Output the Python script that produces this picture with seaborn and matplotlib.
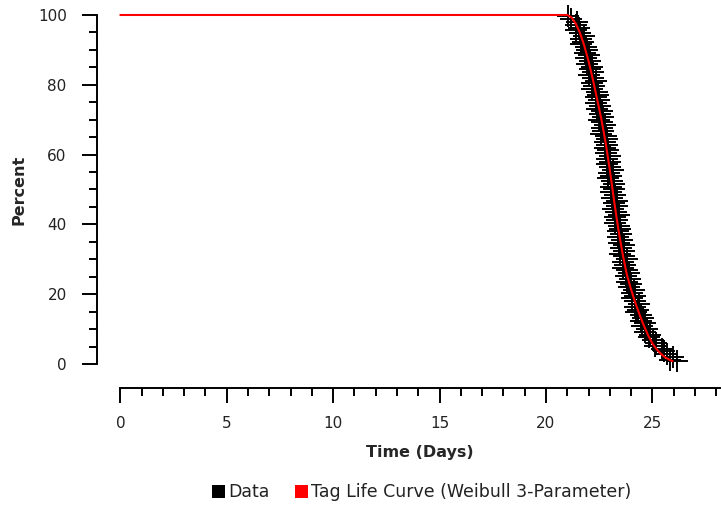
import matplotlib
matplotlib.use("Agg")
import matplotlib.pyplot as plt
from matplotlib.patches import Patch
from matplotlib.ticker import MultipleLocator
import seaborn as sns
import pandas as pd

# ================================
# Data
# ================================
data_days = [
    21.03, 21.18, 21.46, 21.39, 21.57, 21.43, 21.62, 21.78, 21.63, 21.73,
    21.65, 21.87, 21.95, 21.85, 22.00, 21.87, 22.06, 21.95, 22.18, 22.06,
    22.21, 22.04, 22.20, 22.35, 22.18, 22.27, 22.17, 22.38, 22.46, 22.35,
    22.48, 22.35, 22.53, 22.42, 22.64, 22.52, 22.67, 22.50, 22.65, 22.79,
    22.62, 22.70, 22.60, 22.80, 22.87, 22.76, 22.89, 22.75, 22.92, 22.80,
    23.02, 22.89, 23.03, 22.85, 23.00, 23.14, 22.96, 23.04, 22.92, 23.12,
    23.19, 23.07, 23.20, 23.06, 23.22, 23.10, 23.32, 23.19, 23.33, 23.15,
    23.30, 23.44, 23.26, 23.34, 23.23, 23.43, 23.50, 23.38, 23.51, 23.37,
    23.55, 23.43, 23.65, 23.52, 23.67, 23.49, 23.65, 23.79, 23.62, 23.71,
    23.60, 23.81, 23.89, 23.78, 23.93, 23.80, 23.99, 23.89, 24.13, 24.02,
    24.18, 24.02, 24.19, 24.36, 24.20, 24.31, 24.23, 24.46, 24.56, 24.47,
    24.63, 24.52, 24.73, 24.65, 24.91, 24.82, 25.01, 25.15, 25.10, 25.45,
    25.55, 25.70, 25.95, 25.85, 26.15,
]
data_percent = [
    99.6, 98.8, 98.0, 97.2, 96.4, 95.6, 94.8, 94.0, 93.2, 92.4,
    91.6, 90.8, 90.0, 89.2, 88.4, 87.6, 86.8, 86.0, 85.2, 84.4,
    83.6, 82.8, 82.0, 81.2, 80.4, 79.6, 78.8, 78.0, 77.2, 76.4,
    75.6, 74.8, 74.0, 73.2, 72.4, 71.6, 70.8, 70.0, 69.2, 68.4,
    67.6, 66.8, 66.0, 65.2, 64.4, 63.6, 62.8, 62.0, 61.2, 60.4,
    59.6, 58.8, 58.0, 57.2, 56.4, 55.6, 54.8, 54.0, 53.2, 52.4,
    51.6, 50.8, 50.0, 49.2, 48.4, 47.6, 46.8, 46.0, 45.2, 44.4,
    43.6, 42.8, 42.0, 41.2, 40.4, 39.6, 38.8, 38.0, 37.2, 36.4,
    35.6, 34.8, 34.0, 33.2, 32.4, 31.6, 30.8, 30.0, 29.2, 28.4,
    27.6, 26.8, 26.0, 25.2, 24.4, 23.6, 22.8, 22.0, 21.2, 20.4,
    19.6, 18.8, 18.0, 17.2, 16.4, 15.6, 14.8, 14.0, 13.2, 12.4,
    11.6, 10.8, 10.0, 9.2, 8.4, 7.6, 6.8, 6.0, 5.2, 4.4,
    3.6, 2.8, 2.0, 1.2, 0.9,
]

curve_days = [0.0, 21.0, 21.2, 21.4, 21.6, 21.8, 22.0, 22.2, 22.4, 22.6,
              22.8, 23.0, 23.2, 23.4, 23.6, 23.8, 24.0, 24.2, 24.4, 24.6,
              24.8, 25.0, 25.2, 25.4, 25.6, 25.8, 25.95]
curve_percent = [100.0, 100.0, 99.3, 97.5, 94.8, 91.2, 86.8, 81.6, 76.0, 70.2,
                 63.5, 55.6, 46.8, 38.6, 31.6, 25.6, 21.3, 17.5, 14.1, 11.0,
                 8.2, 5.9, 4.2, 2.9, 1.9, 1.2, 0.8]

legend_labels = ["Data", "Tag Life Curve (Weibull 3-Parameter)"]

df_data = pd.DataFrame({"days": data_days, "percent": data_percent})
df_curve = pd.DataFrame({"days": curve_days, "percent": curve_percent})

# ================================
# Plot
# ================================
sns.set_style("ticks")
plt.rcParams["font.family"] = ["DejaVu Sans"]

fig = plt.figure(figsize=(7.21, 5.08), dpi=100)
ax = fig.add_axes([0.1669, 0.2835, 0.8318, 0.687])

sns.scatterplot(data=df_data, x="days", y="percent", marker="+", s=230,
                color="black", linewidth=1.4, legend=False, ax=ax, zorder=2,
                clip_on=False)
sns.lineplot(data=df_curve, x="days", y="percent", color="#ff0000", linewidth=1.5,
             legend=False, ax=ax, zorder=3)
for line in ax.lines:
    line.set_clip_on(False)

ax.set_xlim(0, 28.18)
ax.set_ylim(0, 100)

sns.despine(ax=ax)
ax.spines["left"].set_position(("outward", 16.6))
ax.spines["bottom"].set_position(("outward", 17.3))
for side in ["left", "bottom"]:
    ax.spines[side].set_linewidth(1.4)
    ax.spines[side].set_color("black")

ax.xaxis.set_major_locator(MultipleLocator(5))
ax.xaxis.set_minor_locator(MultipleLocator(1))
ax.yaxis.set_major_locator(MultipleLocator(20))
ax.yaxis.set_minor_locator(MultipleLocator(5))
ax.tick_params(which="both", bottom=True, left=True, top=False, right=False)
ax.tick_params(which="major", direction="out", length=11, width=1.4,
               color="black", labelsize=11, labelcolor="#222222")
ax.tick_params(which="minor", direction="out", length=6, width=1.4, color="black")
ax.tick_params(axis="y", which="major", pad=11)
ax.tick_params(axis="x", which="major", pad=9)

ax.set_xlabel("Time (Days)", fontsize=11.5, fontweight="bold", labelpad=10)
ax.set_ylabel("Percent", fontsize=11.5, fontweight="bold", labelpad=8)

handles = [Patch(facecolor="black", edgecolor="none"),
           Patch(facecolor="red", edgecolor="none")]
fig.legend(handles, legend_labels, loc="center", bbox_to_anchor=(0.585, 0.031),
           ncol=2, frameon=False, fontsize=12.5, handlelength=0.75, handleheight=0.75,
           handletextpad=0.15, columnspacing=1.5, labelcolor="#222222")

fig.savefig("out.png", dpi=100)
plt.close(fig)
